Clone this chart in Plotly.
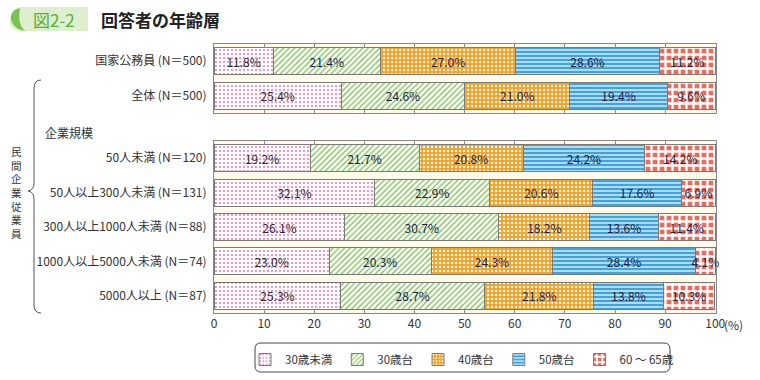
import plotly.graph_objects as go

# ---- data ----
series_names = ["30歳未満", "30歳台", "40歳台", "50歳台", "60 ～ 65歳"]
top_cats = ["国家公務員 (N＝500)", "全体 (N＝500)"]
bottom_cats = ["50人未満 (N＝120)", "50人以上300人未満 (N＝131)", "300人以上1000人未満 (N＝88)",
               "1000人以上5000人未満 (N＝74)", "5000人以上 (N＝87)"]
top_vals = [
    [11.8, 25.4],
    [21.4, 24.6],
    [27.0, 21.0],
    [28.6, 19.4],
    [11.2, 9.6],
]
bottom_vals = [
    [19.2, 32.1, 26.1, 23.0, 25.3],
    [21.7, 22.9, 30.7, 20.3, 28.7],
    [20.8, 20.6, 18.2, 24.3, 21.8],
    [24.2, 17.6, 13.6, 28.4, 13.8],
    [14.2, 6.9, 11.4, 4.1, 10.3],
]
x_ticks = [0, 10, 20, 30, 40, 50, 60, 70, 80, 90, 100]

# ---- styles ----
patterns = [
    dict(shape=".", fgcolor="#EE6AAA", bgcolor="#FFFFFF", size=4, solidity=0.18, fillmode="replace"),
    dict(shape="/", fgcolor="#72BE4A", bgcolor="#FFFFFF", size=4, solidity=0.3, fillmode="replace"),
    dict(shape=".", fgcolor="#FFFFFF", bgcolor="#F5A01E", size=4, solidity=0.3, fillmode="replace"),
    dict(shape="-", fgcolor="#FFFFFF", bgcolor="#40A3DB", size=4, solidity=0.3, fillmode="replace"),
    dict(shape="+", fgcolor="#FFFFFF", bgcolor="#EE6B5B", size=7, solidity=0.55, fillmode="replace"),
]
FONT = "Noto Sans CJK JP"
TXT = "#1E2440"

fig = go.Figure()
for i, name in enumerate(series_names):
    for cats, vals, xa, ya, show in [(top_cats, top_vals, "x2", "y2", False),
                                     (bottom_cats, bottom_vals, "x", "y", True)]:
        fig.add_trace(go.Bar(
            orientation="h", y=cats, x=vals[i], name=name, xaxis=xa, yaxis=ya,
            legendgroup=name, showlegend=show,
            marker=dict(color=patterns[i]["bgcolor"], pattern=patterns[i],
                        line=dict(color="#7A7A7A", width=1)),
            width=0.78,
            text=[f"{v:.1f}%" for v in vals[i]], textposition="inside", textangle=0,
            insidetextanchor="middle", constraintext="none",
            textfont=dict(family=FONT, size=12, color=TXT),
            cliponaxis=False, hoverinfo="skip",
        ))

L, R, T, B = 214, 716, 44, 313
def px(x):
    return (x - L) / (R - L)
def py(y):
    return (B - y) / (B - T)

axis_common = dict(range=[0, 100.15], tickvals=x_ticks, ticks="inside", ticklen=4, tickcolor="#888888",
                   showline=True, linecolor="#888888", linewidth=1, mirror="ticks", showgrid=False,
                   zeroline=False, automargin=False,
                   tickfont=dict(family=FONT, size=12, color="#333333"))
yaxis_common = dict(showline=True, linecolor="#888888", linewidth=1, mirror=True, ticks="",
                    autorange="reversed", showgrid=False, automargin=False, ticklabelstandoff=4,
                    tickfont=dict(family=FONT, size=12, color="#333333"))

fig.update_layout(
    width=760, height=380, barmode="stack", bargap=0.2,
    margin=dict(l=L, r=760 - R, t=T, b=380 - B, autoexpand=False),
    paper_bgcolor="#FFFFFF", plot_bgcolor="#FFFBE8",
    font=dict(family=FONT, size=12, color="#333333"),
    xaxis=dict(domain=[0, 1], anchor="y", **axis_common),
    xaxis2=dict(domain=[0, 1], anchor="y2", showticklabels=False, **axis_common),
    yaxis=dict(domain=[0, py(141)], anchor="x", **yaxis_common),
    yaxis2=dict(domain=[py(113), 1], anchor="x2", **yaxis_common),
    legend=dict(orientation="h", x=px(462), xanchor="center", y=py(345), yanchor="top",
                borderwidth=0, bgcolor="rgba(0,0,0,0)",
                font=dict(family=FONT, size=11.5, color="#333333"), traceorder="normal",
                itemwidth=30, tracegroupgap=0),
    showlegend=True,
)

shapes = []
# title badge
shapes.append(dict(type="path", xref="paper", yref="paper",
                   path=f"M {px(22)} {py(7)} L {px(88)} {py(7)} L {px(88)} {py(31)} L {px(22)} {py(31)} "
                        f"Q {px(8)} {py(31)} {px(10)} {py(19)} Q {px(12)} {py(7)} {px(22)} {py(7)} Z",
                   fillcolor="#DDEFCC", line=dict(width=0), layer="below"))
shapes.append(dict(type="path", xref="paper", yref="paper",
                   path=f"M {px(20)} {py(8)} Q {px(10)} {py(10)} {px(11)} {py(20)} Q {px(14)} {py(30)} {px(26)} {py(31)} "
                        f"Q {px(17)} {py(26)} {px(20)} {py(8)} Z",
                   fillcolor="#7CC152", line=dict(width=0), layer="below"))
# bracket
shapes.append(dict(type="path", xref="paper", yref="paper",
                   path=f"M {px(41)} {py(80)} Q {px(34)} {py(80)} {px(34)} {py(88)} L {px(34)} {py(183)} "
                        f"Q {px(34)} {py(190)} {px(28)} {py(191)} Q {px(34)} {py(192)} {px(34)} {py(199)} "
                        f"L {px(34)} {py(305)} Q {px(34)} {py(313)} {px(41)} {py(313)}",
                   line=dict(color="#555555", width=1)))
# legend rounded frame
x0, x1, y0, y1, r = 255, 670, 343, 372, 6
shapes.append(dict(type="path", xref="paper", yref="paper",
                   path=f"M {px(x0 + r)} {py(y0)} L {px(x1 - r)} {py(y0)} Q {px(x1)} {py(y0)} {px(x1)} {py(y0 + r)} "
                        f"L {px(x1)} {py(y1 - r)} Q {px(x1)} {py(y1)} {px(x1 - r)} {py(y1)} "
                        f"L {px(x0 + r)} {py(y1)} Q {px(x0)} {py(y1)} {px(x0)} {py(y1 - r)} "
                        f"L {px(x0)} {py(y0 + r)} Q {px(x0)} {py(y0)} {px(x0 + r)} {py(y0)} Z",
                   line=dict(color="#444444", width=1)))
fig.update_layout(shapes=shapes)

ann = []
ann.append(dict(x=px(31), y=py(19), xref="paper", yref="paper", text="図2-2", showarrow=False,
                xanchor="left", yanchor="middle", font=dict(family=FONT, size=17, color="#5BAE3A")))
ann.append(dict(x=px(99), y=py(19), xref="paper", yref="paper", text="<b>回答者の年齢層</b>", showarrow=False,
                xanchor="left", yanchor="middle", font=dict(family=FONT, size=17, color="#222222")))
ann.append(dict(x=px(43), y=py(132), xref="paper", yref="paper", text="企業規模", showarrow=False,
                xanchor="left", yanchor="middle", font=dict(family=FONT, size=12, color="#333333")))
ann.append(dict(x=px(722), y=py(324), xref="paper", yref="paper", text="(%)", showarrow=False,
                xanchor="left", yanchor="middle", font=dict(family=FONT, size=12, color="#333333")))
ann.append(dict(x=px(16), y=py(192), xref="paper", yref="paper",
                text="<br>".join("民間企業従業員"), showarrow=False,
                xanchor="center", yanchor="middle", align="center",
                font=dict(family=FONT, size=10.5, color="#333333")))
fig.update_layout(annotations=ann)

fig.write_html("out.html", config={"displayModeBar": False},
               post_script="document.body.style.margin='0px';")
